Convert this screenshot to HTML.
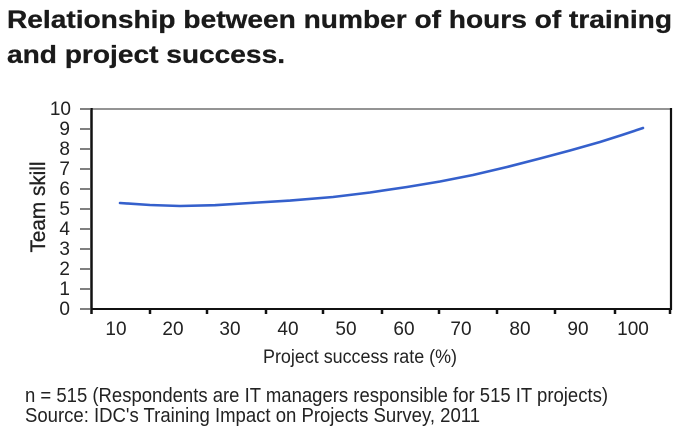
<!DOCTYPE html>
<html>
<head>
<meta charset="utf-8">
<style>
  html, body { margin: 0; padding: 0; background: #fff; }
  body { width: 683px; height: 436px; overflow: hidden; }
  svg { display: block; }
</style>
</head>
<body>
<svg width="683" height="436" viewBox="0 0 683 436" xmlns="http://www.w3.org/2000/svg">
  <rect x="0" y="0" width="683" height="436" fill="#ffffff"/>

  <!-- Title -->
  <g font-family="'Liberation Sans', Arial, sans-serif" font-weight="bold" font-size="25" fill="#1a1a1a" stroke="#1a1a1a" stroke-width="0.3">
    <text x="7" y="28" textLength="665" lengthAdjust="spacingAndGlyphs">Relationship between number of hours of training</text>
    <text x="7" y="63" textLength="278" lengthAdjust="spacingAndGlyphs">and project success.</text>
  </g>

  <!-- Plot frame -->
  <line x1="91" y1="109" x2="671" y2="109" stroke="#555" stroke-width="1.2"/>
  <line x1="671" y1="108" x2="671" y2="310" stroke="#111" stroke-width="2.2"/>
  <line x1="90" y1="309" x2="672" y2="309" stroke="#111" stroke-width="2"/>
  <line x1="91.5" y1="108" x2="91.5" y2="314" stroke="#111" stroke-width="2.5"/>

  <!-- Y ticks -->
  <g stroke="#555" stroke-width="1.5">
    <line x1="80" y1="309" x2="91" y2="309"/>
    <line x1="80" y1="289" x2="91" y2="289"/>
    <line x1="80" y1="269" x2="91" y2="269"/>
    <line x1="80" y1="249" x2="91" y2="249"/>
    <line x1="80" y1="229" x2="91" y2="229"/>
    <line x1="80" y1="209" x2="91" y2="209"/>
    <line x1="80" y1="189" x2="91" y2="189"/>
    <line x1="80" y1="169" x2="91" y2="169"/>
    <line x1="80" y1="149" x2="91" y2="149"/>
    <line x1="80" y1="129" x2="91" y2="129"/>
    <line x1="80" y1="109" x2="91" y2="109"/>
  </g>

  <!-- X ticks -->
  <g stroke="#111" stroke-width="2.5">
    <line x1="150" y1="309" x2="150" y2="314"/>
    <line x1="207" y1="309" x2="207" y2="314"/>
    <line x1="266" y1="309" x2="266" y2="314"/>
    <line x1="323" y1="309" x2="323" y2="314"/>
    <line x1="382" y1="309" x2="382" y2="314"/>
    <line x1="439" y1="309" x2="439" y2="314"/>
    <line x1="497" y1="309" x2="497" y2="314"/>
    <line x1="555" y1="309" x2="555" y2="314"/>
    <line x1="615" y1="309" x2="615" y2="314"/>
    <line x1="670" y1="309" x2="670" y2="314"/>
  </g>

  <!-- Y tick labels -->
  <g font-family="'Liberation Sans', Arial, sans-serif" font-size="19" fill="#222" text-anchor="end">
    <text x="70" y="315">0</text>
    <text x="70" y="295">1</text>
    <text x="70" y="275">2</text>
    <text x="70" y="255">3</text>
    <text x="70" y="235">4</text>
    <text x="70" y="215">5</text>
    <text x="70" y="195">6</text>
    <text x="70" y="175">7</text>
    <text x="70" y="155">8</text>
    <text x="70" y="135">9</text>
    <text x="71" y="115">10</text>
  </g>

  <!-- X tick labels -->
  <g font-family="'Liberation Sans', Arial, sans-serif" font-size="19" fill="#222" text-anchor="middle">
    <text x="116" y="335">10</text>
    <text x="173" y="335">20</text>
    <text x="230" y="335">30</text>
    <text x="288" y="335">40</text>
    <text x="346" y="335">50</text>
    <text x="404" y="335">60</text>
    <text x="461" y="335">70</text>
    <text x="520" y="335">80</text>
    <text x="578" y="335">90</text>
    <text x="633" y="335">100</text>
  </g>

  <!-- Axis titles -->
  <text x="263" y="363" font-family="'Liberation Sans', Arial, sans-serif" font-size="19" fill="#222" textLength="194" lengthAdjust="spacingAndGlyphs">Project success rate (%)</text>
  <text transform="translate(45,207) rotate(-90)" x="0" y="0" text-anchor="middle" font-family="'Liberation Sans', Arial, sans-serif" font-size="21" fill="#222" stroke="#222" stroke-width="0.3" textLength="91" lengthAdjust="spacingAndGlyphs">Team skill</text>

  <!-- Curve -->
  <polyline fill="none" stroke="#3560cc" stroke-width="2.6" stroke-linejoin="round" stroke-linecap="round"
    points="120,203 150,205 180,206 215,205.2 250,203 290,200.6 333,197 370,192.5 407,187 440,181.5 473,175 507,167 540,158.5 570,150.5 600,142 622,135 643,128"/>

  <!-- Footnote -->
  <g font-family="'Liberation Sans', Arial, sans-serif" font-size="20" fill="#222">
    <text x="25" y="402" textLength="583" lengthAdjust="spacingAndGlyphs">n = 515 (Respondents are IT managers responsible for 515 IT projects)</text>
    <text x="25" y="422" textLength="455" lengthAdjust="spacingAndGlyphs">Source: IDC's Training Impact on Projects Survey, 2011</text>
  </g>
</svg>
</body>
</html>
